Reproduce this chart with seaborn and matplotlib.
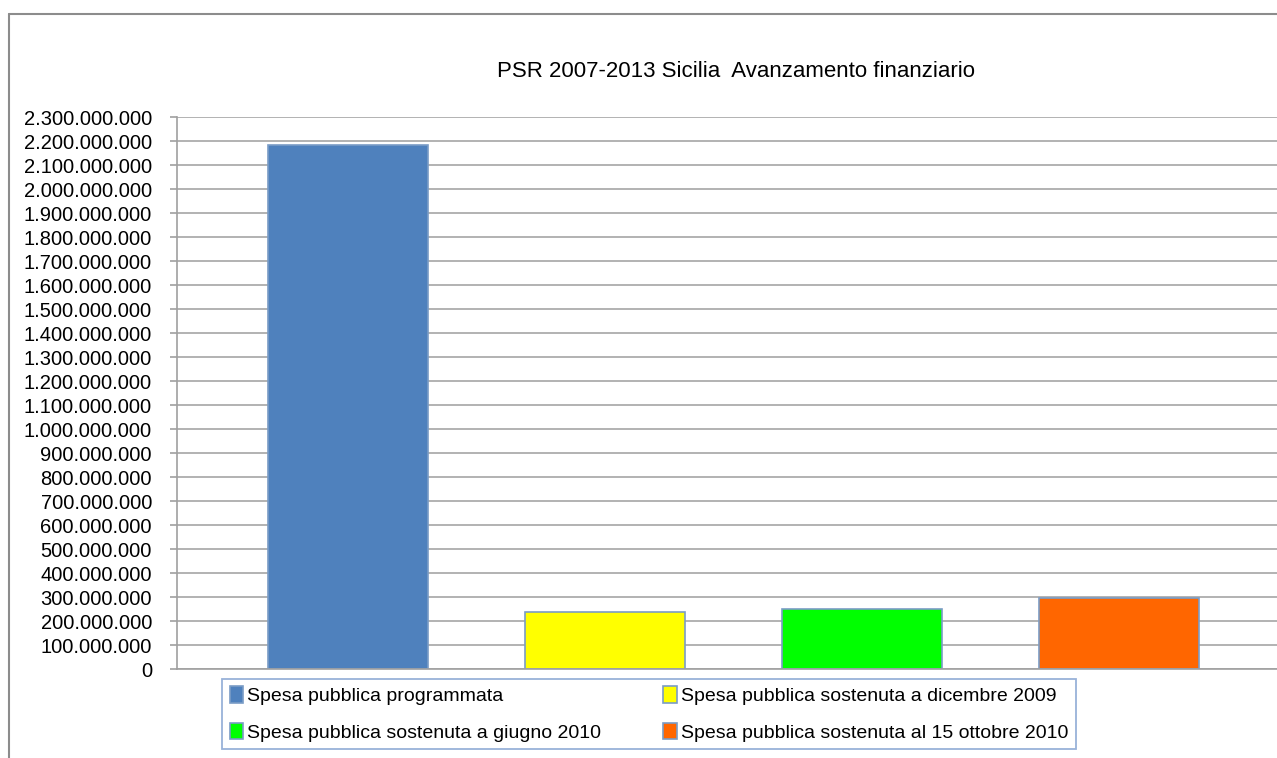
import matplotlib
matplotlib.use("Agg")
import matplotlib.pyplot as plt
from matplotlib.lines import Line2D
from matplotlib.ticker import FuncFormatter, MultipleLocator
import seaborn as sns

# data
series = [
    "Spesa pubblica programmata",
    "Spesa pubblica sostenuta a dicembre 2009",
    "Spesa pubblica sostenuta a giugno 2010",
    "Spesa pubblica sostenuta al 15 ottobre 2010",
]
values = [2_183_000_000, 238_000_000, 251_000_000, 296_000_000]
colors = ["#4F81BD", "#FFFF00", "#00FF00", "#FF6600"]
title = "PSR 2007-2013 Sicilia  Avanzamento finanziario"

sns.set_style("white")
plt.rcParams["font.family"] = ["Liberation Sans", "DejaVu Sans"]
plt.rcParams["text.color"] = "black"

fig = plt.figure(figsize=(12.77, 7.58), dpi=100)
ax = fig.add_axes([0.1386, 0.1174, 0.8716, 0.7282])

sns.barplot(x=series, y=values, hue=series, palette=colors, saturation=1,
            width=0.623, edgecolor="#7A9CC6", linewidth=1.2, legend=True, ax=ax)

ax.set_ylim(0, 2_300_000_000)
ax.set_xlim(-0.665, 3.665)
ax.yaxis.set_major_locator(MultipleLocator(100_000_000))
ax.yaxis.set_major_formatter(FuncFormatter(lambda v, _: f"{int(round(v)):,}".replace(",", ".")))
ax.grid(axis="y", color="#A6A6A6", linewidth=1.2)
ax.set_axisbelow(True)
ax.set_xticks([])
ax.set_xlabel("")
ax.set_ylabel("")
for s in ["top", "right"]:
    ax.spines[s].set_visible(False)
for s in ["left", "bottom"]:
    ax.spines[s].set_color("#A0A0A0")
    ax.spines[s].set_linewidth(1.2)
ax.tick_params(axis="y", length=5, width=1.2, color="#A0A0A0", labelsize=14.5,
               labelcolor="black", pad=13, left=True)

handles, labels = ax.get_legend_handles_labels()
ax.get_legend().remove()
order = [0, 2, 1, 3]
leg = fig.legend([handles[i] for i in order], [labels[i] for i in order],
                 loc="center", bbox_to_anchor=(0.1738, 0.0079, 0.6688, 0.1003),
                 bbox_transform=fig.transFigure, mode="expand", ncol=2,
                 fontsize=14, frameon=True, fancybox=False, handlelength=0.7,
                 handleheight=0.9, handletextpad=0.2, borderaxespad=0,
                 labelspacing=0.9, borderpad=0.4, columnspacing=0.5)
leg.get_frame().set_edgecolor("#7F9FCF")
leg.get_frame().set_linewidth(1.3)
for t in leg.get_texts():
    t.set_color("black")

fig.text(0.576, 0.906, title, ha="center", va="center", fontsize=16, color="black")

# outer chart frame
fig.add_artist(Line2D([9 / 1277, 9 / 1277], [0, 1 - 14 / 758], transform=fig.transFigure,
                      color="#8C8C8C", linewidth=1.5))
fig.add_artist(Line2D([9 / 1277, 1], [1 - 14 / 758, 1 - 14 / 758], transform=fig.transFigure,
                      color="#8C8C8C", linewidth=1.5))

fig.savefig("out.png", dpi=100)
